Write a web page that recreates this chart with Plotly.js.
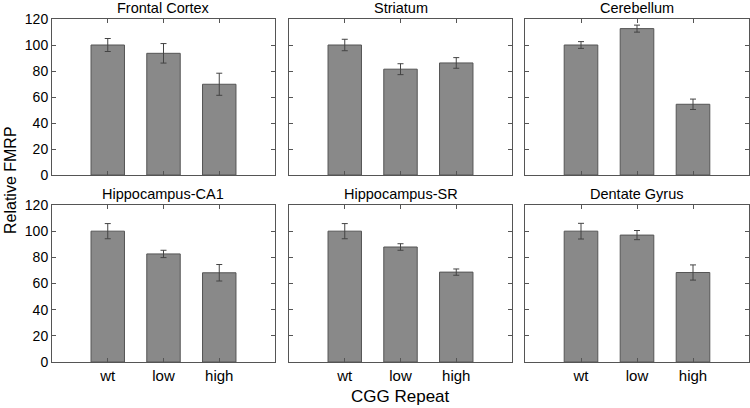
<!DOCTYPE html>
<html>
<head>
<meta charset="utf-8">
<script src="https://cdn.plot.ly/plotly-3.0.1.min.js"></script>
<style>
  body { margin: 0; background: #fff; }
  #plot { width: 750px; height: 408px; }
</style>
</head>
<body>
<div id="plot"></div>
<script>
// values (mean +/- error)
const categories = ['wt', 'low', 'high'];
const regions = ['Frontal Cortex', 'Striatum', 'Cerebellum',
                 'Hippocampus-CA1', 'Hippocampus-SR', 'Dentate Gyrus'];
const frontalMean = [100, 93.6, 69.8];
const frontalErr = [5, 7.5, 8.5];
const striatumMean = [100, 81.4, 86.2];
const striatumErr = [4.4, 4.2, 4.1];
const cerebellumMean = [100, 112.6, 54.4];
const cerebellumErr = [2.6, 2.7, 4.0];
const ca1Mean = [100, 82.6, 68.2];
const ca1Err = [5.8, 2.8, 6.3];
const srMean = [100, 87.9, 68.7];
const srErr = [5.8, 2.5, 2.4];
const dgMean = [100, 97.0, 68.4];
const dgErr = [6.0, 3.5, 5.8];
const yTicks = [0, 20, 40, 60, 80, 100, 120];

const means = [frontalMean, striatumMean, cerebellumMean, ca1Mean, srMean, dgMean];
const errs = [frontalErr, striatumErr, cerebellumErr, ca1Err, srErr, dgErr];

// panel positions in pixels (750 x 408)
const W = 750, H = 408;
const colsPx = [[52, 275], [289, 512], [525, 749]];
const rowsPx = [[19, 175], [205, 362]];

const font = 'Arial, "Liberation Sans", sans-serif';
const traces = [];
const layout = {
    width: W, height: H,
    margin: { l: 0, r: 0, t: 0, b: 0 },
    paper_bgcolor: '#fff', plot_bgcolor: '#fff',
    showlegend: false,
    font: { family: font, color: '#000', size: 14 },
    annotations: []
};

for (let i = 0; i < 6; i++) {
    const row = Math.floor(i / 3), col = i % 3;
    const n = i === 0 ? '' : String(i + 1);
    traces.push({
        type: 'bar',
        x: categories,
        y: means[i],
        width: 0.6,
        xaxis: 'x' + n, yaxis: 'y' + n,
        marker: { color: '#898989', line: { color: '#555', width: 1 } },
        error_y: { type: 'data', array: errs[i], color: '#444', thickness: 1, width: 3 },
        hoverinfo: 'skip'
    });
    const xd = [colsPx[col][0] / W, colsPx[col][1] / W];
    const yd = [1 - rowsPx[row][1] / H, 1 - rowsPx[row][0] / H];
    layout['xaxis' + n] = {
        domain: xd, anchor: 'y' + n,
        type: 'category', range: [-1, 3],
        showline: true, linecolor: '#555', linewidth: 1, mirror: 'ticks',
        ticks: 'inside', ticklen: 4, tickcolor: '#555',
        showticklabels: row === 1, tickfont: { size: 15 },
        showgrid: false, zeroline: false, fixedrange: true
    };
    layout['yaxis' + n] = {
        domain: yd, anchor: 'x' + n,
        range: [0, 120], tickvals: yTicks,
        showline: true, linecolor: '#555', linewidth: 1, mirror: 'ticks',
        ticks: 'inside', ticklen: 4, tickcolor: '#555',
        showticklabels: col === 0, tickfont: { size: 14 },
        showgrid: false, zeroline: false, fixedrange: true
    };
    layout.annotations.push({
        text: regions[i], xref: 'paper', yref: 'paper',
        x: (xd[0] + xd[1]) / 2, xanchor: 'center',
        y: yd[1], yanchor: 'bottom', yshift: 1,
        showarrow: false, font: { size: 14.5 }
    });
}

layout.annotations.push({
    text: 'Relative FMRP', xref: 'paper', yref: 'paper',
    x: 10 / W, xanchor: 'center', y: 1 - 180 / H, yanchor: 'middle',
    textangle: -90, showarrow: false, font: { size: 16 }
});
layout.annotations.push({
    text: 'CGG Repeat', xref: 'paper', yref: 'paper',
    x: 401 / W, xanchor: 'center', y: 1 - 396 / H, yanchor: 'middle',
    showarrow: false, font: { size: 17 }
});

Plotly.newPlot('plot', traces, layout, { displayModeBar: false, staticPlot: true });
</script>
</body>
</html>
